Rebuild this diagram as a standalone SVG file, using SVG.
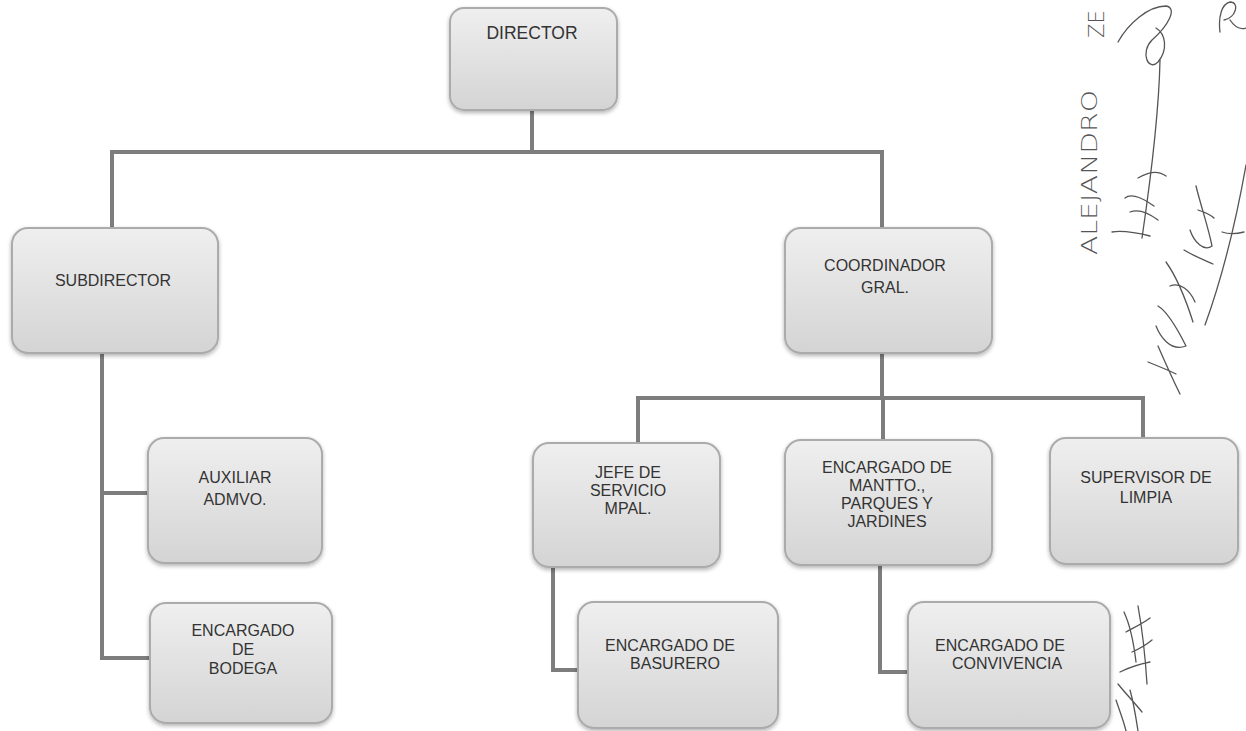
<svg xmlns="http://www.w3.org/2000/svg" width="1246" height="731" viewBox="0 0 1246 731">
<defs>
<linearGradient id="boxfill" x1="0" y1="0" x2="0" y2="1">
<stop offset="0" stop-color="#efefef"/>
<stop offset="1" stop-color="#d4d4d4"/>
</linearGradient>
<filter id="shadow" x="-10%" y="-10%" width="120%" height="125%">
<feGaussianBlur in="SourceAlpha" stdDeviation="2"/>
<feOffset dx="0" dy="2" result="b"/>
<feComponentTransfer><feFuncA type="linear" slope="0.3"/></feComponentTransfer>
<feMerge><feMergeNode/><feMergeNode in="SourceGraphic"/></feMerge>
</filter>
</defs>
<style>
.box{fill:url(#boxfill);stroke:#ababab;stroke-width:2;filter:url(#shadow)}
.lbl{font-family:"Liberation Sans",Arial,sans-serif;font-size:16px;fill:#333333;text-anchor:middle}
.conn{fill:none;stroke:#7d7d7d;stroke-width:4;stroke-linejoin:miter}
.ink{fill:none;stroke:#555555;stroke-width:1.3;stroke-linecap:round;stroke-linejoin:round}
.hand{font-family:"DejaVu Sans",sans-serif;font-size:21px;fill:#555555;font-weight:200}
</style>
<rect width="1246" height="731" fill="#ffffff"/>

<g id="connectors">
<path class="conn" d="M532 110 V152"/>
<path class="conn" d="M112 228 V152 H882 V228"/>
<path class="conn" d="M102 353 V658 H150"/>
<path class="conn" d="M102 493 H148"/>
<path class="conn" d="M882 353 V398"/>
<path class="conn" d="M638 443 V398 H1143 V438"/>
<path class="conn" d="M883 398 V440"/>
<path class="conn" d="M553 567 V670 H578"/>
<path class="conn" d="M880 565 V672 H908"/>
</g>

<g id="director">
<rect class="box" x="450" y="8" width="167" height="102" rx="14"/>
<text class="lbl" x="532" y="39" style="font-size:17.5px">DIRECTOR</text>
</g>
<g id="subdirector">
<rect class="box" x="12" y="228" width="206" height="125" rx="16"/>
<text class="lbl" x="113" y="286">SUBDIRECTOR</text>
</g>
<g id="coordinador">
<rect class="box" x="785" y="228" width="207" height="125" rx="16"/>
<text class="lbl" x="885" y="271">COORDINADOR</text>
<text class="lbl" x="885" y="293">GRAL.</text>
</g>
<g id="auxiliar">
<rect class="box" x="148" y="438" width="174" height="125" rx="16"/>
<text class="lbl" x="235" y="483">AUXILIAR</text>
<text class="lbl" x="235" y="505">ADMVO.</text>
</g>
<g id="bodega">
<rect class="box" x="150" y="603" width="182" height="120" rx="16"/>
<text class="lbl" x="243" y="636">ENCARGADO</text>
<text class="lbl" x="243" y="655">DE</text>
<text class="lbl" x="243" y="674">BODEGA</text>
</g>
<g id="jefe">
<rect class="box" x="533" y="443" width="187" height="124" rx="16"/>
<text class="lbl" x="628" y="478">JEFE DE</text>
<text class="lbl" x="628" y="496">SERVICIO</text>
<text class="lbl" x="628" y="514">MPAL.</text>
</g>
<g id="mantto">
<rect class="box" x="785" y="440" width="207" height="125" rx="16"/>
<text class="lbl" x="887" y="473">ENCARGADO DE</text>
<text class="lbl" x="887" y="491">MANTTO.,</text>
<text class="lbl" x="887" y="509">PARQUES Y</text>
<text class="lbl" x="887" y="527">JARDINES</text>
</g>
<g id="supervisor">
<rect class="box" x="1050" y="438" width="188" height="126" rx="16"/>
<text class="lbl" x="1146" y="483">SUPERVISOR DE</text>
<text class="lbl" x="1146" y="503">LIMPIA</text>
</g>
<g id="basurero">
<rect class="box" x="578" y="602" width="200" height="126" rx="16"/>
<text class="lbl" x="670" y="651">ENCARGADO DE</text>
<text class="lbl" x="675" y="669">BASURERO</text>
</g>
<g id="convivencia">
<rect class="box" x="908" y="602" width="202" height="126" rx="16"/>
<text class="lbl" x="1000" y="651">ENCARGADO DE</text>
<text class="lbl" x="1007" y="669">CONVIVENCIA</text>
</g>

<g id="handwriting">
<text class="hand" transform="translate(1097 255) rotate(-90)" textLength="165" lengthAdjust="spacingAndGlyphs">ALEJANDRO</text>
<text class="hand" transform="translate(1104 38) rotate(-90)">ZE</text>
<path class="ink" d="M1118 42 C1128 24 1148 6 1166 6 C1178 8 1168 26 1152 40 C1140 52 1148 72 1158 62 C1168 50 1166 34 1156 28"/>
<path class="ink" d="M1160 60 C1159 110 1152 170 1142 238"/>
<path class="ink" d="M1112 232 C1125 230 1138 233 1150 236"/>
<path class="ink" d="M1138 178 C1148 172 1158 170 1166 176 M1125 198 C1132 192 1146 200 1154 206 M1130 212 C1140 208 1150 214 1158 220"/>
<path class="ink" d="M1220 32 C1218 16 1222 4 1230 2 C1240 2 1236 18 1224 20 M1230 20 C1234 26 1240 30 1246 28"/>
<path class="ink" d="M1246 165 C1238 210 1225 270 1205 325"/>
<path class="ink" d="M1222 232 C1228 234 1236 234 1244 232"/>
<path class="ink" d="M1196 186 C1202 210 1208 226 1212 246 C1204 252 1194 242 1190 230 M1184 250 C1194 256 1204 260 1213 264 M1198 210 C1204 212 1210 214 1214 218"/>
<path class="ink" d="M1166 262 C1176 276 1186 300 1193 322 M1170 286 C1180 282 1190 290 1195 302 M1158 306 C1168 312 1178 330 1186 346 C1170 352 1160 336 1156 326"/>
<path class="ink" d="M1158 346 C1165 362 1172 378 1180 394 M1148 362 C1158 366 1168 370 1176 374"/>
<path class="ink" d="M1124 612 C1130 625 1134 645 1136 662 M1126 632 C1133 628 1142 624 1150 618 M1138 606 C1142 628 1145 652 1147 684 M1132 652 C1139 649 1146 645 1152 640 M1120 672 C1128 668 1140 664 1150 662 M1116 700 C1120 712 1124 722 1126 731 M1118 684 C1126 694 1134 702 1142 712 M1130 690 C1134 704 1136 718 1138 731"/>
</g>
</svg>
